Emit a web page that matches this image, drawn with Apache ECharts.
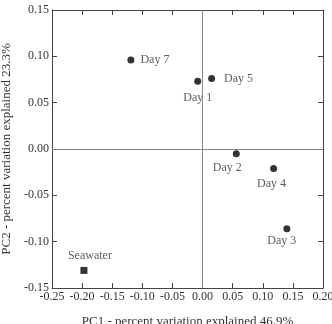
<!DOCTYPE html>
<html lang="en">
<head>
    <meta charset="UTF-8">
    <script src="https://cdn.jsdelivr.net/npm/echarts@6/dist/echarts.min.js"></script>
    <style>body{margin:0}</style>
</head>
<body>
    <div id="main" style="height: 324px;width: 332px;"></div>
    <script>
        // PCA scores
        var days = ['Day 1', 'Day 2', 'Day 3', 'Day 4', 'Day 5', 'Day 7']
        var pc1 = [-0.008, 0.056, 0.140, 0.118, 0.015, -0.119]
        var pc2 = [0.073, -0.005, -0.086, -0.021, 0.076, 0.096]
        var seawater = [-0.197, -0.131]

        // label placement per point [position, dx, dy]
        var labelPos = {
            'Day 1': ['bottom', 0, 2],
            'Day 2': ['bottom', -9, 0],
            'Day 3': ['bottom', -5, -2],
            'Day 4': ['bottom', -2, 1],
            'Day 5': ['right', 4, 0],
            'Day 7': ['right', 1, 0]
        }

        var font = 'Liberation Serif'
        var fmt = function (v) { return v.toFixed(2) }

        var dayData = days.map(function (d, i) {
            var p = labelPos[d]
            return {
                value: [pc1[i], pc2[i]],
                name: d,
                label: { position: p[0], offset: [p[1], p[2]] }
            }
        })

        var axisCommon = {
            axisLine: { show: true, onZero: false, lineStyle: { color: '#444', width: 1 } },
            axisTick: { show: true, inside: true, length: 5, lineStyle: { color: '#444' } },
            splitLine: { show: false }
        }

        var myCharts = echarts.init(document.getElementById('main'))
        var option = {
            animation: false,
            grid: { left: 52, right: 9, top: 10, bottom: 36, containLabel: false, outerBoundsMode: 'none' },
            xAxis: [
                Object.assign({
                    type: 'value', min: -0.25, max: 0.2, interval: 0.05, position: 'bottom',
                    name: 'PC1 - percent variation explained 46.9%', nameLocation: 'middle', nameGap: 27,
                    nameTextStyle: { fontFamily: font, fontSize: 13, color: '#333' },
                    axisLabel: { formatter: fmt, fontFamily: font, fontSize: 12, color: '#333', margin: 3 }
                }, axisCommon),
                Object.assign({
                    type: 'value', min: -0.25, max: 0.2, interval: 0.05, position: 'top',
                    axisLabel: { show: false }
                }, axisCommon)
            ],
            yAxis: [
                Object.assign({
                    type: 'value', min: -0.15, max: 0.15, interval: 0.05, position: 'left',
                    name: 'PC2 - percent variation explained 23.3%', nameLocation: 'middle', nameGap: 38,
                    nameTextStyle: { fontFamily: font, fontSize: 13, color: '#333' },
                    axisLabel: { formatter: fmt, fontFamily: font, fontSize: 12, color: '#333', margin: 3 }
                }, axisCommon),
                Object.assign({
                    type: 'value', min: -0.15, max: 0.15, interval: 0.05, position: 'right',
                    axisLabel: { show: false }
                }, axisCommon)
            ],
            series: [{
                type: 'scatter',
                data: dayData,
                symbol: 'circle',
                symbolSize: 7,
                itemStyle: { color: '#000' },
                label: {
                    show: true,
                    formatter: '{b}',
                    fontFamily: font, fontSize: 12, color: '#333', distance: 5
                },
                markLine: {
                    silent: true,
                    symbol: 'none',
                    label: { show: false },
                    lineStyle: { color: '#888', width: 1, type: 'solid' },
                    data: [{ xAxis: 0 }, { yAxis: 0 }]
                }
            }, {
                type: 'scatter',
                data: [{ value: seawater, name: 'Seawater' }],
                symbol: 'rect',
                symbolSize: 7,
                itemStyle: { color: '#000' },
                label: {
                    show: true, position: 'top', offset: [6, 0], distance: 5,
                    formatter: '{b}', fontFamily: font, fontSize: 12, color: '#333'
                }
            }]
        }
        myCharts.setOption(option)
    </script>
</body>
</html>
